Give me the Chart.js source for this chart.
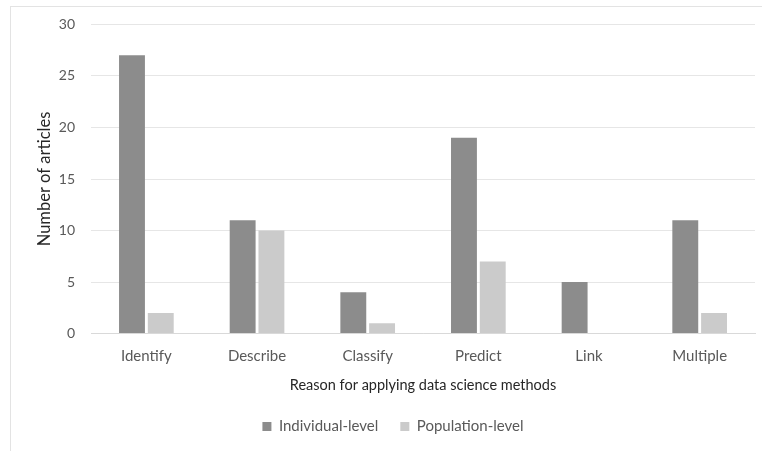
<!DOCTYPE html>
<html>
<head>
<meta charset="utf-8">
<script src="https://cdn.jsdelivr.net/npm/chart.js@4.4.1/dist/chart.umd.min.js"></script>
<style>
  html, body { margin: 0; padding: 0; background: #ffffff; }
  #frame {
    position: absolute; left: 10px; top: 6px; width: 760px; height: 450px;
    border-left: 1px solid #e3e3e3; border-top: 1px solid #e3e3e3;
  }
  #wrap { position: absolute; left: 0; top: 0; width: 762px; height: 451px; }
</style>
</head>
<body>
<div id="frame"></div>
<div id="wrap"><canvas id="chart" width="762" height="451"></canvas></div>
<script>
const categories = ['Identify', 'Describe', 'Classify', 'Predict', 'Link', 'Multiple'];
const individualLevel = [27, 11, 4, 19, 5, 11];
const populationLevel = [2, 10, 1, 7, 0, 2];
const yTicks = [0, 5, 10, 15, 20, 25, 30];

const fontFamily = 'Lato, "Open Sans", sans-serif';

new Chart(document.getElementById('chart'), {
  type: 'bar',
  data: {
    labels: categories,
    datasets: [
      { label: 'Individual-level', data: individualLevel, backgroundColor: '#8c8c8c',
        categoryPercentage: 0.52, barPercentage: 0.9 },
      { label: 'Population-level', data: populationLevel, backgroundColor: '#cbcbcb',
        categoryPercentage: 0.52, barPercentage: 0.9 }
    ]
  },
  options: {
    responsive: false,
    animation: false,
    layout: { padding: { left: 31, right: 7, top: 21, bottom: 7 } },
    plugins: {
      tooltip: { enabled: false },
      legend: {
        position: 'bottom',
        labels: {
          boxWidth: 9, boxHeight: 9, padding: 22,
          color: '#595959', font: { family: fontFamily, size: 15 }
        }
      }
    },
    scales: {
      x: {
        grid: { display: false, drawTicks: false },
        border: { display: true, color: '#d9d9d9', width: 1 },
        ticks: { color: '#595959', padding: 14, font: { family: fontFamily, size: 15 } },
        title: {
          display: true, text: 'Reason for applying data science methods',
          color: '#262626', font: { family: fontFamily, size: 14.5 }, padding: { top: -3, bottom: 3 }
        }
      },
      y: {
        min: 0, max: 30,
        afterBuildTicks: (axis) => { axis.ticks = yTicks.map(v => ({ value: v })); },
        grid: { color: '#e6e6e6', lineWidth: 1, drawTicks: false },
        border: { display: false },
        ticks: { color: '#595959', padding: 16, font: { family: fontFamily, size: 14 } },
        title: {
          display: true, text: 'Number of articles',
          color: '#262626', font: { family: fontFamily, size: 16.5 }, padding: { top: 4, bottom: -12 }
        }
      }
    }
  }
});
</script>
</body>
</html>
